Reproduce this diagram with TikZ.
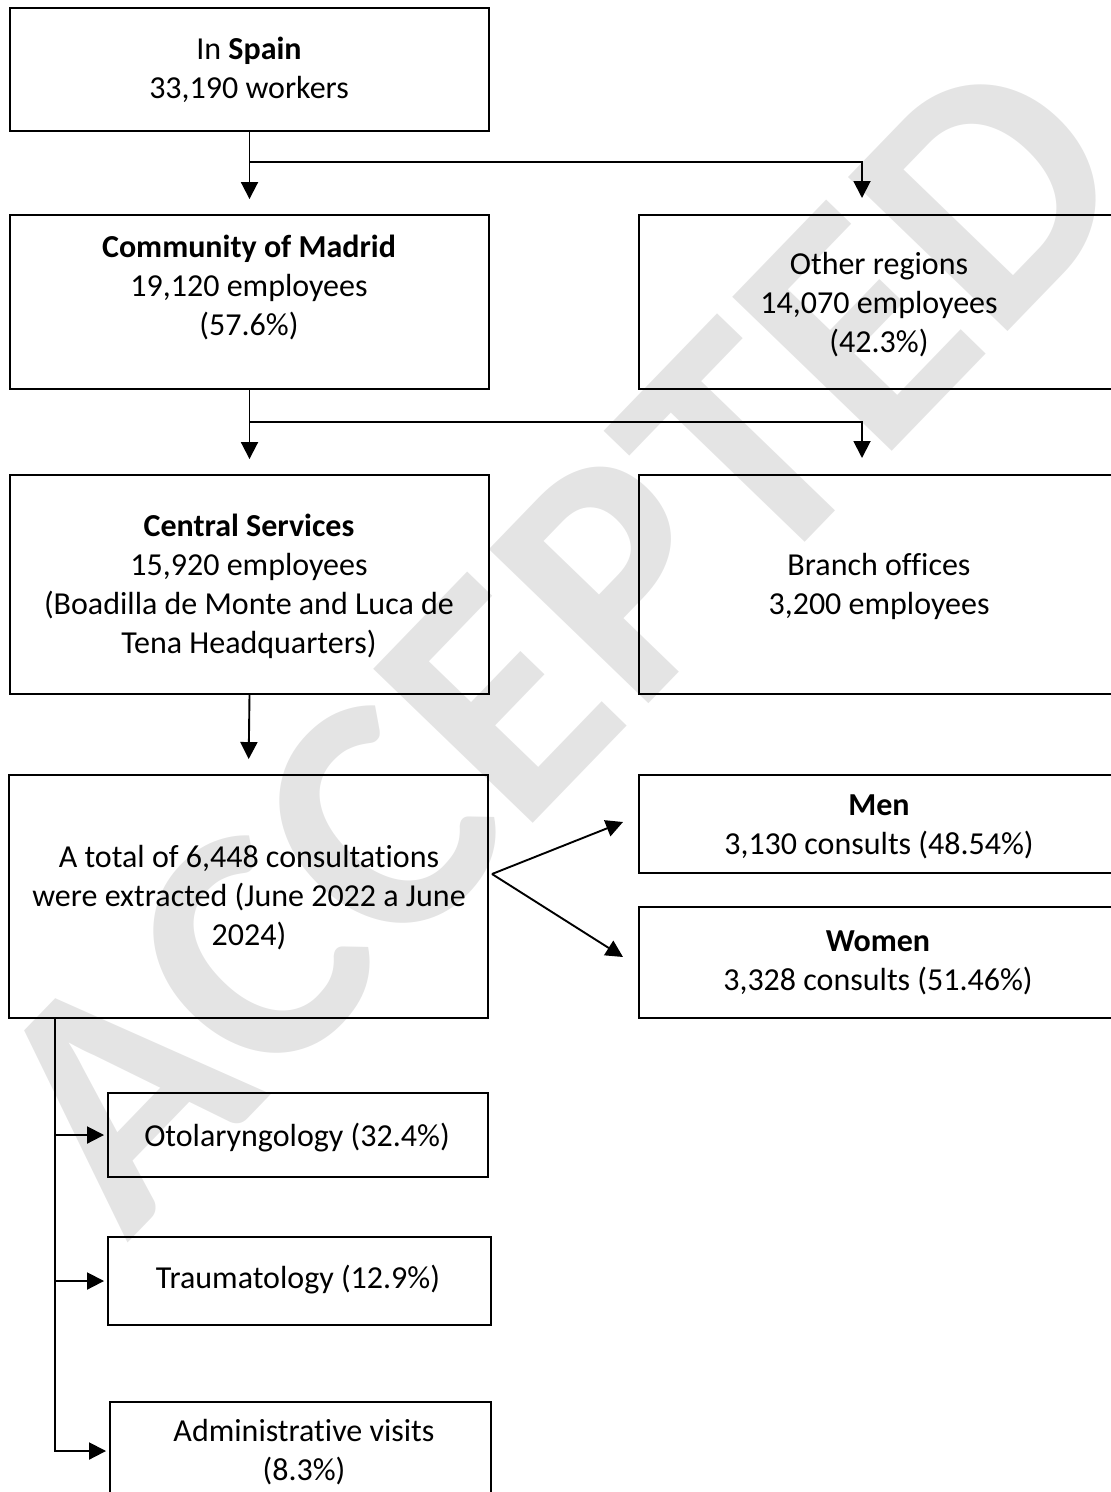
\documentclass[tikz,border=0pt]{standalone}
\usepackage{fontspec}
\setmainfont{Carlito}[Ligatures=NoCommon]
\usetikzlibrary{arrows.meta}
\definecolor{wmgray}{HTML}{E4E4E4}
\begin{document}
\begin{tikzpicture}[x=1pt,y=-1pt,
  boxnode/.style={draw, line width=1.9pt, inner sep=0pt},
  txt/.style={inner sep=0pt, align=center, font=\fontsize{32}{39}\selectfont},
  arr/.style={line width=1.9pt, -{Triangle[length=17pt,width=17pt]}}
]
\clip (0,0) rectangle (1111,1492);
\useasboundingbox (0,0) rectangle (1111,1492);
% watermark
\node[rotate=46, text=wmgray, inner sep=0pt, font=\fontsize{342}{342}\selectfont\bfseries] (wm) at (556,640) {ACCEPTED};
% boxes
\node[boxnode, minimum width=479pt, minimum height=123pt] (spain) at (249.5,69.5) {};
\node[boxnode, minimum width=479pt, minimum height=174pt] (madrid) at (249.5,302) {};
\node[boxnode, minimum width=479pt, minimum height=174pt] (other) at (878.5,302) {};
\node[boxnode, minimum width=479pt, minimum height=219pt] (central) at (249.5,584.5) {};
\node[boxnode, minimum width=479pt, minimum height=219pt] (branch) at (878.5,584.5) {};
\node[boxnode, minimum width=479pt, minimum height=243pt] (total) at (248.5,896.5) {};
\node[boxnode, minimum width=479pt, minimum height=98pt] (men) at (878.5,824) {};
\node[boxnode, minimum width=479pt, minimum height=111pt] (women) at (878.5,962.5) {};
\node[boxnode, minimum width=380pt, minimum height=84pt] (oto) at (298,1135) {};
\node[boxnode, minimum width=383pt, minimum height=88pt] (trauma) at (299.5,1281) {};
\node[boxnode, minimum width=381pt, minimum height=98pt] (admin) at (300.5,1451) {};
% texts
\node[txt] (spainT) at (249,69.5) {In \textbf{Spain}\\33,190 workers};
\node[txt] (madridT) at (249,287) {\textbf{Community of Madrid}\\19,120 employees\\(57.6\%)};
\node[txt] (otherT) at (879,305) {Other regions\\14,070 employees\\(42.3\%)};
\node[txt] (centralT) at (249,586.5) {\textbf{Central Services}\\15,920 employees\\(Boadilla de Monte and Luca de\\Tena Headquarters)};
\node[txt] (branchT) at (879,586.5) {Branch offices\\3,200 employees};
\node[txt] (totalT) at (249,898) {A total of 6,448 consultations\\were extracted (June 2022 a June\\2024)};
\node[txt] (menT) at (879,826.5) {\textbf{Men}\\3,130 consults (48.54\%)};
\node[txt] (womenT) at (878,963) {\textbf{Women}\\3,328 consults (51.46\%)};
\node[txt] (otoT) at (297,1138) {Otolaryngology (32.4\%)};
\node[txt] (traumaT) at (298,1280) {Traumatology (12.9\%)};
\node[txt] (adminT) at (304,1452.5) {Administrative visits\\(8.3\%)};
% junction coordinates
\coordinate (j1) at (249,162);
\coordinate (otherIn) at (862,198);
\coordinate (j2) at (249,422);
\coordinate (branchIn) at (862,458);
\coordinate (fork) at (492,874);
\coordinate (menIn) at (623,822);
\coordinate (womenIn) at (623,957);
\coordinate (tb) at (55,1018);
% connectors
\draw[arr, shorten >=15pt] (spain.south) -- (madrid.north);
\draw[arr] (j1) -| (otherIn);
\draw[arr, shorten >=15pt] (madrid.south) -- (central.north);
\draw[arr] (j2) -| (branchIn);
\draw[arr, shorten >=15pt] (central.south) -- (total.north);
\draw[arr] (fork) -- (menIn);
\draw[arr] (fork) -- (womenIn);
\draw[arr, shorten >=3pt] (tb) |- (oto.west);
\draw[arr, shorten >=3pt] (tb) |- (trauma.west);
\draw[arr, shorten >=3pt] (tb) |- (admin.west);
\end{tikzpicture}
\end{document}
